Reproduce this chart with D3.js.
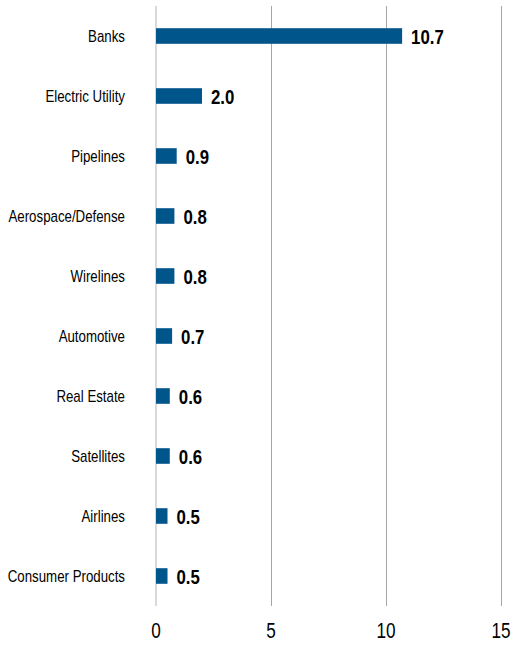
<!DOCTYPE html>
<html>
<head>
<meta charset="utf-8">
<script src="https://cdn.jsdelivr.net/npm/d3@7"></script>
<style>
  body { margin: 0; background: #fff; }
  text { font-family: "Liberation Sans", Arial, sans-serif; }
</style>
</head>
<body>
<div id="chart"></div>
<script>
// data
const categories = ["Banks", "Electric Utility", "Pipelines", "Aerospace/Defense", "Wirelines",
    "Automotive", "Real Estate", "Satellites", "Airlines", "Consumer Products"];
const values = [10.7, 2.0, 0.9, 0.8, 0.8, 0.7, 0.6, 0.6, 0.5, 0.5];
const xTicks = [0, 5, 10, 15];

const margin = { top: 6, right: 11, bottom: 39, left: 156 },
    width = 512 - margin.left - margin.right,
    height = 645 - margin.top - margin.bottom;

// the original uses a narrow font, so squeeze text horizontally
const narrow = 0.78;

const svg = d3.select("#chart")
    .append("svg")
    .attr("width", width + margin.left + margin.right)
    .attr("height", height + margin.top + margin.bottom)
    .append("g")
    .attr("transform", "translate(" + margin.left + "," + margin.top + ")");

const x = d3.scaleLinear()
    .domain([0, 15])
    .range([0, width]);

const y = d3.scaleBand()
    .domain(categories)
    .range([0, height])
    .paddingInner(0.74)
    .paddingOuter(0.37);

// gridlines
svg.append("g")
    .selectAll("line")
    .data(xTicks)
    .enter()
    .append("line")
    .attr("x1", d => x(d))
    .attr("x2", d => x(d))
    .attr("y1", 0)
    .attr("y2", height)
    .style("stroke", d => d === 0 ? "#d9d9d9" : "#a6a6a6")
    .style("stroke-width", d => d === 0 ? 2 : 1)
    .style("shape-rendering", "crispEdges");

// x labels
svg.append("g")
    .selectAll("text")
    .data(xTicks)
    .enter()
    .append("text")
    .attr("transform", d => "translate(" + x(d) + "," + (height + 32) + ") scale(" + narrow + ",1)")
    .attr("text-anchor", "middle")
    .style("font-size", "22px")
    .style("fill", "#000")
    .text(d => d);

// category labels
svg.append("g")
    .selectAll("text")
    .data(categories)
    .enter()
    .append("text")
    .attr("transform", d => "translate(-31," + (y(d) + y.bandwidth() / 2) + ") scale(0.83,1)")
    .attr("dy", "0.35em")
    .attr("text-anchor", "end")
    .style("font-size", "16px")
    .style("fill", "#000")
    .text(d => d);

// bars
svg.append("g")
    .selectAll("rect")
    .data(values)
    .enter()
    .append("rect")
    .attr("x", x(0))
    .attr("y", (d, i) => y(categories[i]))
    .attr("width", d => x(d) - x(0))
    .attr("height", y.bandwidth())
    .style("fill", "#00558a");

// value labels
svg.append("g")
    .selectAll("text")
    .data(values)
    .enter()
    .append("text")
    .attr("transform", (d, i) => "translate(" + (x(d) + 9) + "," + (y(categories[i]) + y.bandwidth() / 2) + ") scale(0.8,1)")
    .attr("dy", "0.36em")
    .style("font-size", "21px")
    .style("font-weight", "bold")
    .style("fill", "#000")
    .text(d => d.toFixed(1));
</script>
</body>
</html>
